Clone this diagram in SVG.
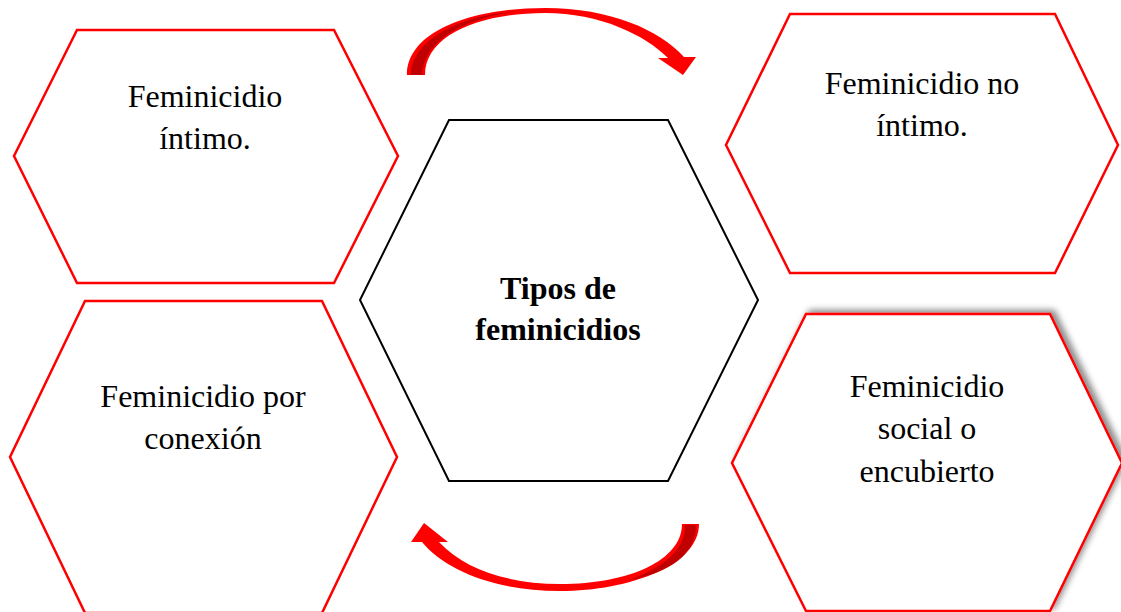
<svg xmlns="http://www.w3.org/2000/svg" width="1121" height="612" viewBox="0 0 1121 612">
<style>
.hex{fill:#fff;stroke:#ff0000;stroke-width:2.5;stroke-linejoin:miter}
.hexc{fill:#fff;stroke:#000;stroke-width:2}
.t{font-family:"Liberation Serif","Times New Roman",serif;font-size:32px;fill:#000;text-anchor:middle}
.b{font-weight:bold}
.arr{fill:#ff0000}
.dark{fill:#c00000}
</style>
<defs>
<filter id="sh" x="-10%" y="-10%" width="120%" height="120%">
<feDropShadow dx="4" dy="-3" stdDeviation="3" flood-color="#000" flood-opacity="0.45"/>
</filter>
</defs>
<rect width="1121" height="612" fill="#fff"/>
<g id="connectors">
<path class="arr" d="M407,75 C407,32 470,8 545,8 C610,8 660,30 684,57 L696,57 L683,75 L658,58 L668,58 C645,35 600,13 545,13 C480,13 425,35 425,75 Z"/>
<path class="dark" d="M411,75 C411,40 460,14 522,11 C470,16 424,38 422,75 Z"/>
<path class="arr" d="M682,524 L699,524 C699,565 630,591 560,591 C495,591 445,570 422,542 L411,542 L424,523 L448,542 L439,542 C465,570 510,584 560,584 C630,584 682,560 682,524 Z"/>
<path class="dark" d="M685,525 L696,525 C696,555 670,572 630,580 C665,566 685,550 685,525 Z"/>
</g>
<g id="center">
<polygon class="hexc" points="449,120 668,120 758,300 668,481 449,481 360,300"/>
<text class="t b" x="558" y="299">Tipos de</text>
<text class="t b" x="558" y="340">feminicidios</text>
</g>
<g id="intimo">
<polygon class="hex" points="77,30 334,30 398,156 334,283 77,283 14,156"/>
<text class="t" x="205" y="107">Feminicidio</text>
<text class="t" x="205" y="149">íntimo.</text>
</g>
<g id="no-intimo">
<polygon class="hex" points="790,14 1055,14 1118,145 1055,273 790,273 726,145"/>
<text class="t" x="922" y="94">Feminicidio no</text>
<text class="t" x="922" y="136">íntimo.</text>
</g>
<g id="conexion">
<polygon class="hex" points="85,301 322,301 397,457 322,613 85,613 10,457"/>
<text class="t" x="203" y="407">Feminicidio por</text>
<text class="t" x="203" y="449">conexión</text>
</g>
<g id="social">
<polygon class="hex" filter="url(#sh)" points="806,314 1050,314 1122,463 1050,611 806,611 732,463"/>
<text class="t" x="927" y="397">Feminicidio</text>
<text class="t" x="927" y="439">social o</text>
<text class="t" x="927" y="482">encubierto</text>
</g>
</svg>
